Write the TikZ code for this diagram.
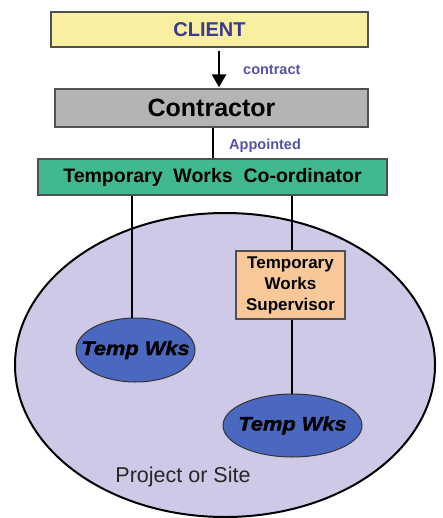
\documentclass[tikz,border=0pt]{standalone}
\usepackage{fontspec}
\setmainfont{Liberation Sans}
\newfontfamily\wksfont[FakeBold=1.6,FakeStretch=1.12]{Liberation Sans}
\usetikzlibrary{shapes.geometric,arrows.meta}
\definecolor{clientfill}{HTML}{F8F0A0}
\definecolor{contrfill}{HTML}{B4B4B4}
\definecolor{twcfill}{HTML}{40B890}
\definecolor{twsfill}{HTML}{F8C898}
\definecolor{sitefill}{HTML}{CDC9E6}
\definecolor{wksfill}{HTML}{4A68C0}
\definecolor{navytext}{HTML}{3A3A90}
\definecolor{labeltext}{HTML}{5252A8}
\definecolor{boxline}{HTML}{505050}
\tikzset{
  box/.style={draw=boxline, line width=1.3pt, inner sep=0pt, font=\bfseries},
  wks/.style={ellipse, draw=black!80, fill=wksfill, line width=1pt, inner sep=0pt},
  wkstext/.style={inner sep=0pt, font=\wksfont\fontsize{19.5}{21}\selectfont\bfseries\itshape},
  conn/.style={line width=2.6pt, black},
  lbl/.style={font=\fontsize{14.5}{16}\selectfont\bfseries, text=labeltext, inner sep=0pt, anchor=west}
}
\begin{document}
\begin{tikzpicture}[x=1pt,y=-1pt]
\useasboundingbox (0,0) rectangle (443,518);
% site
\node[ellipse, draw=black, fill=sitefill, line width=2pt, minimum width=420pt, minimum height=304pt, inner sep=0pt] (site) at (225,365) {};
\node[font=\fontsize{21.5}{24}\selectfont, text=black!85, inner sep=0pt] (sitelbl) at (183,477) {Project or Site};
% boxes
\node[box, fill=clientfill, minimum width=317pt, minimum height=35pt, text=navytext, font=\fontsize{20}{22}\selectfont\bfseries] (client) at (209.5,29.5) {CLIENT};
\node[box, fill=contrfill, minimum width=313pt, minimum height=38pt, font=\fontsize{25}{28}\selectfont\bfseries] (contr) at (211.5,108) {Contractor};
\node[box, fill=twcfill, minimum width=349pt, minimum height=36pt, font=\fontsize{19.5}{22}\selectfont\bfseries] (twc) at (212.5,177) {Temporary\ \ Works\ \ Co-ordinator};
\node[box, fill=twsfill, minimum width=109pt, minimum height=68pt, align=center, font=\fontsize{17}{21}\selectfont\bfseries] (tws) at (290.5,285) {Temporary\\Works\\Supervisor};
% temp works
\node[wks, minimum width=119pt, minimum height=64pt] (wk1) at (135.5,350) {};
\node[wkstext] (wk1t) at (wk1.center) {Temp Wks};
\node[wks, minimum width=139pt, minimum height=63pt] (wk2) at (292.5,425.5) {};
\node[wkstext] (wk2t) at (wk2.center) {Temp Wks};
% labels
\node[lbl] (contractlbl) at (243,70) {contract};
\node[lbl] (applbl) at (229,146) {Appointed};
% connectors
\coordinate (ax) at (219,0);
\coordinate (cx) at (213,0);
\coordinate (lx) at (132,0);
\coordinate (rx) at (292,0);
\draw[conn, -{Triangle[length=13pt,width=14pt]}, shorten <=3pt, shorten >=1pt] (client.south -| ax) -- (contr.north -| ax);
\draw[conn] (contr.south -| cx) -- (twc.north -| cx);
\draw[conn] (twc.south -| lx) -- (wk1.north -| lx);
\draw[conn] (twc.south -| rx) -- (tws.north -| rx);
\draw[conn] (tws.south -| rx) -- (wk2.north -| rx);
\end{tikzpicture}
\end{document}
